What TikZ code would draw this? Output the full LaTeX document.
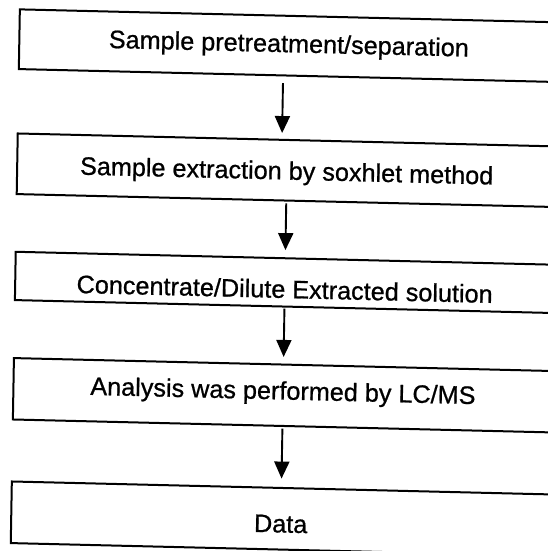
\documentclass[tikz,border=0pt]{standalone}
\usepackage{fontspec}
\setmainfont[FakeBold=0.8,AutoFakeBold=0.8]{Liberation Sans}
\usetikzlibrary{arrows.meta}
\begin{document}
\begin{tikzpicture}[x=1pt,y=-1pt,
  stepbox/.style={draw=black, line width=2pt, outer sep=0pt, inner sep=0pt, minimum width=539pt},
  lbl/.style={inner sep=0pt, font=\fontsize{25.2}{30}\selectfont\bfseries, text=black},
  flow/.style={line width=1.9pt, -{Triangle[width=15pt,length=17pt]}}]
\useasboundingbox (0,0) rectangle (547,551);
\fill[white] (0,0) rectangle (547,551);
\begin{scope}[cm={1,-0.024,0.017,1,(0,0)}, transform shape]
  \node[stepbox, minimum height=59.7pt] (b1) at (289.5,38.75) {};
  \node[stepbox, minimum height=60.6pt] (b2) at (289.5,163.3) {};
  \node[stepbox, minimum height=48.3pt] (b3) at (289.5,275.45) {};
  \node[stepbox, minimum height=61.4pt] (b4) at (289.5,388.3) {};
  \node[stepbox, minimum height=61.6pt] (b5) at (289.5,511.8) {};
  \node[lbl] (t1) at (289.5,38.8) {Sample pretreatment/separation};
  \node[lbl] (t2) at (289.5,166.1) {Sample extraction by soxhlet method};
  \node[lbl] (t3) at (289.5,282) {Concentrate/Dilute Extracted solution};
  \node[lbl] (t4) at (289.5,386) {Analysis was performed by LC/MS};
  \node[lbl] (t5) at (289.5,517) {Data};
  \draw[flow] ([xshift=-5.3pt,yshift=-7.6pt]b1.south) -- ([xshift=-5.3pt,yshift=6.8pt]b2.north);
  \draw[flow] ([yshift=-2.8pt]b2.south) -- ([yshift=8.2pt]b3.north);
  \draw[flow] ([yshift=-1.9pt]b3.south) -- ([yshift=7.7pt]b4.north);
  \draw[flow] ([yshift=-2.5pt]b4.south) -- ([yshift=9.5pt]b5.north);
\end{scope}
\end{tikzpicture}
\end{document}
